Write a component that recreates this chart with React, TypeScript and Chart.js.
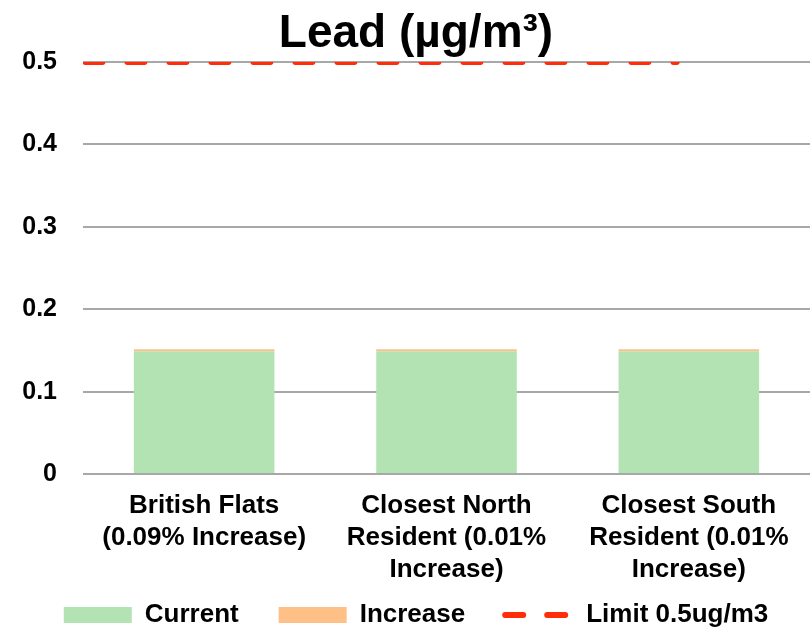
import React, { useEffect, useRef } from "react";
import { Chart, registerables } from "chart.js";

Chart.register(...registerables);

const categories: string[][] = [
  ["British Flats", "(0.09% Increase)"],
  ["Closest North", "Resident (0.01%", "Increase)"],
  ["Closest South", "Resident (0.01%", "Increase)"],
];
const currentValues = [0.149, 0.149, 0.149];
const increaseValues = [0.0025, 0.0025, 0.0025];
const limitX = [0.01, 2.45];
const limitY = [0.5, 0.5];
const yTicks = [0, 0.1, 0.2, 0.3, 0.4, 0.5];

const FONT = "'Liberation Sans', Arial, Helvetica, sans-serif";
const RED = "#ff2d0a";

export default function App() {
  const ref = useRef<HTMLCanvasElement | null>(null);
  useEffect(() => {
    document.body.style.margin = "0";
    const ctx = ref.current!.getContext("2d")!;
    const chart = new Chart(ctx, {
      type: "bar",
      data: {
        labels: categories,
        datasets: [
          {
            type: "bar",
            label: "Current",
            data: currentValues,
            backgroundColor: "#b3e3b3",
            borderWidth: 0,
            pointStyle: "rect",
            grouped: false,
            barPercentage: 1,
            categoryPercentage: 0.58,
          } as any,
          {
            type: "bar",
            label: "Increase",
            data: increaseValues,
            backgroundColor: "#ffc088",
            borderWidth: 0,
            pointStyle: "rect",
            grouped: false,
            barPercentage: 1,
            categoryPercentage: 0.58,
          } as any,
          {
            type: "line",
            label: "Limit 0.5ug/m3",
            data: limitX.map((x, i) => ({ x, y: limitY[i] })),
            xAxisID: "x2",
            yAxisID: "y",
            borderColor: RED,
            backgroundColor: RED,
            borderWidth: 6,
            borderDash: [17, 25],
            borderCapStyle: "round",
            pointRadius: 0,
            pointStyle: "line",
            fill: false,
          } as any,
        ],
      },
      options: {
        animation: false,
        responsive: false,
        maintainAspectRatio: false,
        layout: { padding: { left: 22, right: 2, top: 0, bottom: -9 } },
        scales: {
          x: {
            stacked: true,
            grid: { display: false },
            border: { display: false },
            ticks: {
              color: "#000",
              maxRotation: 0,
              autoSkip: false,
              padding: 8,
              font: { family: FONT, size: 26, weight: "bold", lineHeight: 1.23 },
            },
            afterFit: (axis: any) => {
              axis.paddingLeft = 0;
              axis.paddingRight = 0;
              axis.height -= 32;
              axis._computeLabelArea = () => undefined;
            },
          },
          x2: {
            type: "linear",
            display: false,
            offset: false,
            min: 0,
            max: 3,
          },
          y: {
            stacked: true,
            min: 0,
            max: 0.5,
            afterBuildTicks: (axis: any) => {
              axis.ticks = yTicks.map((v) => ({ value: v }));
            },
            afterFit: (axis: any) => {
              axis.width = 61;
            },
            border: { display: false },
            grid: { color: "#a8a8a8", lineWidth: 2, drawTicks: false },
            ticks: {
              color: "#000",
              padding: 26,
              callback: (v: any) => String(Math.round(Number(v) * 10) / 10),
              font: { family: FONT, size: 25, weight: "bold" },
            },
          },
        } as any,
        plugins: {
          title: {
            display: true,
            text: "Lead (µg/m³)",
            color: "#000",
            padding: { top: 8, bottom: 1 },
            font: { family: FONT, size: 46, weight: "bold", lineHeight: 1.15 },
          },
          legend: {
            position: "bottom",
            labels: {
              usePointStyle: true,
              pointStyleWidth: 68,
              boxHeight: 16,
              padding: 40,
              color: "#000",
              font: { family: FONT, size: 26, weight: "bold" },
              generateLabels: (ch: any) => {
                const items = Chart.defaults.plugins.legend.labels.generateLabels(ch);
                return items.map((it: any) => {
                  const ds = ch.data.datasets[it.datasetIndex];
                  if (ds.type === "line") {
                    return {
                      ...it,
                      pointStyle: "line",
                      strokeStyle: RED,
                      fillStyle: RED,
                      lineWidth: 6,
                      lineDash: [18, 24],
                      lineCap: "round",
                    };
                  }
                  return { ...it, pointStyle: "rect", lineWidth: 0, fillStyle: ds.backgroundColor };
                });
              },
            },
          },
          tooltip: { enabled: false },
        },
      } as any,
    });
    return () => chart.destroy();
  }, []);
  return (
    <div style={{ position: "absolute", left: 0, top: 0, width: 812, height: 629 }}>
      <canvas ref={ref} width={812} height={629} style={{ width: 812, height: 629 }} />
    </div>
  );
}
